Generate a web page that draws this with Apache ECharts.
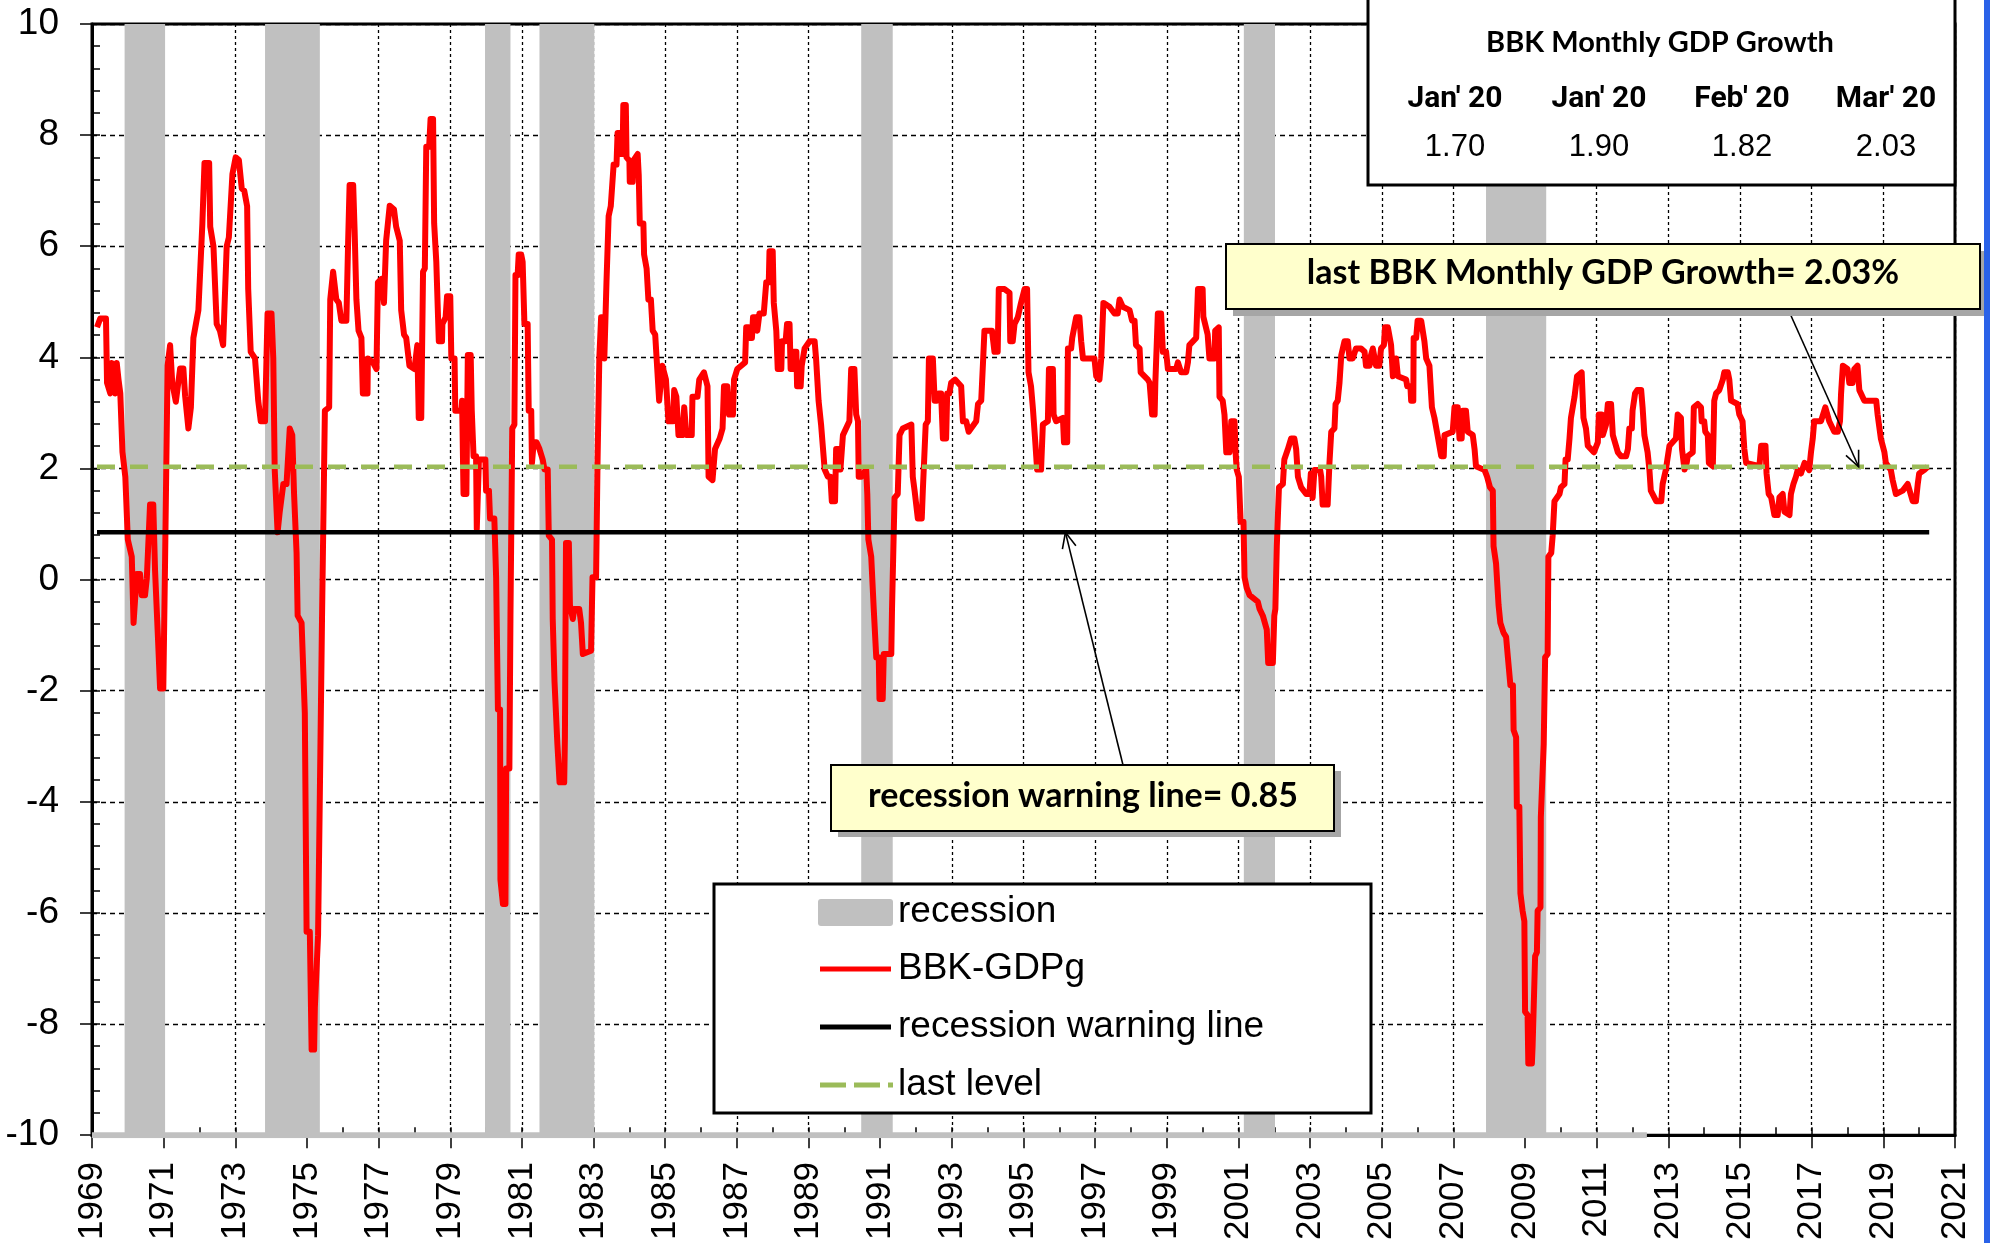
<!DOCTYPE html>
<html><head><meta charset="utf-8">
<script src="https://cdn.jsdelivr.net/npm/echarts@6/dist/echarts.min.js"></script>
<style>html,body{margin:0;padding:0;background:#fff}#c{width:1990px;height:1243px}</style>
</head><body><div id="c"></div>
<script>
// ---------------- DATA ----------------
const yearRange = [1969, 2021];
const valueRange = [-10, 10];
const recessions = [[1969.91,1971.04],[1973.83,1975.36],[1979.97,1980.68],[1981.49,1983.02],[1990.47,1991.35],[2001.15,2002.02],[2007.91,2009.59]];
const recessionSeriesEnd = 2012.4;
const warningLevel = 0.85;
const lastLevel = 2.03;
const levelSpan = [1969.14, 2020.28];
const tableTitle = 'BBK Monthly GDP Growth';
const tableHeaders = ["Jan' 20", "Jan' 20", "Feb' 20", "Mar' 20"];
const tableValues = ['1.70', '1.90', '1.82', '2.03'];
const lastLabel = 'last BBK Monthly GDP Growth= 2.03%';
const warningLabel = 'recession warning line= 0.85';
const legendNames = ['recession', 'BBK-GDPg', 'recession warning line', 'last level'];
const lastArrowTarget = [2018.31, 2.03];
const warningArrowTarget = [1996.17, 0.85];

const bbkGdpg1 = [[1969.14,4.54],[1969.23,4.7],[1969.39,4.7],[1969.42,3.54],[1969.51,3.35],[1969.55,3.9],[1969.65,3.35],[1969.69,3.9],[1969.74,3.6],[1969.79,3.35],[1969.85,2.3],[1969.93,1.85],[1970.00,0.72],[1970.11,0.41],[1970.16,-0.78],[1970.25,0.1],[1970.34,0.1],[1970.39,-0.28],[1970.48,-0.28],[1970.53,0.02],[1970.62,1.35],[1970.71,1.35],[1970.76,0.16],[1970.84,-1.03],[1970.90,-1.96],[1970.99,-1.96],[1971.04,0.35],[1971.11,3.85],[1971.18,4.22],[1971.24,3.54],[1971.34,3.2],[1971.46,3.8],[1971.55,3.8],[1971.60,3.3],[1971.69,2.72],[1971.76,3.1],[1971.83,4.35],[1971.97,4.85],[1972.08,6.4],[1972.14,7.5],[1972.27,7.5],[1972.30,6.35],[1972.39,6.0],[1972.48,4.6],[1972.57,4.48],[1972.66,4.22],[1972.76,6.0],[1972.82,6.16],[1972.92,7.3],[1973.01,7.6],[1973.10,7.55],[1973.18,7.04],[1973.25,7.0],[1973.33,6.72],[1973.36,5.23],[1973.43,4.1],[1973.55,3.98],[1973.64,3.22],[1973.71,2.85],[1973.83,2.85],[1973.87,3.98],[1973.90,4.79],[1974.01,4.79],[1974.06,3.98],[1974.10,1.98],[1974.18,0.85],[1974.24,1.22],[1974.34,1.72],[1974.43,1.72],[1974.52,2.72],[1974.59,2.6],[1974.64,1.54],[1974.71,0.48],[1974.74,-0.65],[1974.85,-0.78],[1974.94,-2.4],[1974.99,-6.34],[1975.08,-6.34],[1975.13,-8.46],[1975.20,-8.46],[1975.22,-7.71],[1975.31,-6.4],[1975.36,-3.84],[1975.42,-0.71],[1975.50,3.04],[1975.62,3.1],[1975.65,5.04],[1975.73,5.54],[1975.82,5.04],[1975.89,4.98],[1975.96,4.66],[1976.10,4.66],[1976.15,6.1],[1976.19,7.1],[1976.29,7.1],[1976.33,6.29],[1976.38,5.04],[1976.44,4.48],[1976.52,4.35],[1976.56,3.35],[1976.69,3.35],[1976.70,3.98],[1976.84,3.91],[1976.94,3.79],[1976.98,5.35],[1977.08,5.41],[1977.15,4.98],[1977.21,6.1],[1977.31,6.73],[1977.43,6.66],[1977.49,6.35],[1977.59,6.1],[1977.63,4.85],[1977.71,4.41],[1977.77,4.35],[1977.86,3.85],[1978.00,3.79],[1978.08,4.22],[1978.12,2.91],[1978.19,2.91],[1978.24,5.54]];
const bbkGdpg2 = [[1978.29,5.6],[1978.33,7.79],[1978.41,7.79],[1978.45,8.29],[1978.52,8.29],[1978.55,6.41],[1978.59,6.41],[1978.61,5.72],[1978.66,5.72],[1978.68,4.29],[1978.77,4.29],[1978.78,4.6],[1978.87,4.72],[1978.91,5.1],[1979.00,5.1],[1979.03,3.98],[1979.12,3.98],[1979.14,3.04],[1979.31,3.04],[1979.33,3.22],[1979.37,1.54],[1979.45,1.54],[1979.49,4.04],[1979.57,4.04],[1979.60,3.04],[1979.65,2.22],[1979.72,2.22],[1979.74,0.91],[1979.80,2.16],[1979.98,2.16],[1980.00,1.6],[1980.08,1.6],[1980.11,1.1],[1980.23,1.1],[1980.28,0.04],[1980.33,-2.34],[1980.39,-2.34],[1980.40,-5.4],[1980.47,-5.84],[1980.54,-5.84],[1980.56,-3.4],[1980.65,-3.4],[1980.68,-0.65],[1980.73,2.72],[1980.79,2.79],[1980.82,5.48],[1980.88,5.48],[1980.91,5.85],[1980.98,5.85],[1981.02,5.72],[1981.07,4.6],[1981.16,4.6],[1981.19,3.04],[1981.26,3.04],[1981.28,2.1],[1981.33,2.47],[1981.41,2.47],[1981.49,2.35],[1981.58,2.16],[1981.63,1.98],[1981.72,1.98],[1981.75,0.79],[1981.84,0.72],[1981.86,-0.71],[1981.91,-1.84],[1981.95,-1.84],[1981.99,-2.96],[1982.05,-3.65],[1982.18,-3.65],[1982.20,-2.84],[1982.23,0.66],[1982.31,0.66],[1982.34,-0.46],[1982.42,-0.71],[1982.46,-0.53],[1982.60,-0.53],[1982.65,-0.78],[1982.70,-1.34],[1982.93,-1.28],[1982.97,0.04],[1983.07,0.04],[1983.11,2.1],[1983.16,3.98],[1983.21,4.72],[1983.27,4.72],[1983.30,3.98],[1983.35,3.98],[1983.36,5.35],[1983.42,6.54],[1983.48,6.72],[1983.53,6.72],[1983.56,7.47],[1983.64,7.47],[1983.67,8.04],[1983.74,8.04],[1983.75,7.66],[1983.81,7.66],[1983.83,8.54],[1983.90,8.54],[1983.92,7.6],[1984.00,7.54],[1984.01,7.16],[1984.09,7.16],[1984.11,7.54],[1984.23,7.66],[1984.26,7.29],[1984.29,6.41],[1984.39,6.41],[1984.41,5.85],[1984.48,5.6],[1984.53,5.04],[1984.60,5.04],[1984.65,4.48],[1984.72,4.41],[1984.76,3.98],[1984.83,3.22],[1984.92,3.85],[1985.02,3.6],[1985.09,2.85],[1985.22,2.85],[1985.25,3.41],[1985.31,3.29],[1985.37,2.6],[1985.48,2.6],[1985.53,3.1],[1985.59,2.6],[1985.74,2.6],[1985.76,3.29],[1985.90,3.29],[1985.95,3.6],[1986.08,3.73],[1986.18,3.48],[1986.21,1.85],[1986.32,1.79],[1986.39,2.35],[1986.52,2.54],[1986.60,2.72],[1986.64,3.48],[1986.73,3.48],[1986.78,2.97],[1986.89,2.97],[1986.92,3.6],[1987.01,3.79]];
const bbkGdpg3 = [[1987.12,3.85],[1987.23,3.91],[1987.26,4.54],[1987.33,4.54],[1987.35,4.35],[1987.42,4.35],[1987.45,4.72],[1987.54,4.72],[1987.57,4.48],[1987.63,4.79],[1987.75,4.79],[1987.82,5.35],[1987.89,5.35],[1987.91,5.91],[1988.00,5.91],[1988.03,4.98],[1988.10,4.48],[1988.14,3.79],[1988.24,3.79],[1988.26,4.29],[1988.36,4.29],[1988.40,4.6],[1988.47,4.6],[1988.50,3.79],[1988.56,3.79],[1988.59,4.1],[1988.66,4.1],[1988.68,3.48],[1988.78,3.48],[1988.81,3.85],[1988.89,4.16],[1989.03,4.29],[1989.17,4.29],[1989.21,3.98],[1989.28,3.22],[1989.35,2.79],[1989.45,1.98],[1989.54,1.85],[1989.61,1.85],[1989.65,1.41],[1989.74,1.41],[1989.77,2.35],[1989.87,2.35],[1989.89,1.98],[1989.96,2.6],[1990.14,2.85],[1990.19,3.79],[1990.28,3.79],[1990.33,2.97],[1990.38,2.85],[1990.40,1.85],[1990.47,1.85],[1990.61,1.98],[1990.64,1.54],[1990.67,0.72],[1990.75,0.41],[1990.82,-0.53],[1990.89,-1.4],[1990.96,-1.4],[1990.98,-2.15],[1991.07,-2.15],[1991.10,-1.34],[1991.31,-1.34],[1991.33,-0.53],[1991.40,1.47],[1991.49,1.54],[1991.54,2.6],[1991.63,2.72],[1991.87,2.79],[1991.91,1.85],[1991.96,1.6],[1992.05,1.1],[1992.16,1.1],[1992.19,1.6],[1992.27,2.79],[1992.33,2.85],[1992.36,3.98],[1992.47,3.98],[1992.52,3.22],[1992.59,3.22],[1992.63,3.35],[1992.70,3.35],[1992.75,2.54],[1992.84,2.54],[1992.87,3.35],[1992.93,3.35],[1992.98,3.54],[1993.09,3.6],[1993.26,3.48],[1993.31,2.85],[1993.40,2.85],[1993.47,2.66],[1993.68,2.85],[1993.73,3.16],[1993.82,3.22],[1993.87,3.91],[1993.91,4.48],[1994.12,4.48],[1994.19,4.1],[1994.28,4.1],[1994.31,5.23],[1994.47,5.23],[1994.61,5.16],[1994.63,4.29],[1994.70,4.29],[1994.75,4.6],[1994.84,4.72],[1994.93,4.98],[1995.03,5.23],[1995.10,5.23],[1995.14,3.73],[1995.21,3.48],[1995.26,3.1],[1995.33,2.47],[1995.38,1.98],[1995.49,1.98],[1995.54,2.79],[1995.68,2.85],[1995.71,3.79],[1995.82,3.79]];
const bbkGdpg4 = [[1995.84,2.97],[1995.91,2.85],[1996.10,2.91],[1996.13,2.47],[1996.22,2.47],[1996.24,4.16],[1996.33,4.16],[1996.36,4.35],[1996.47,4.72],[1996.56,4.72],[1996.61,4.29],[1996.66,3.98],[1996.98,3.98],[1997.03,3.66],[1997.12,3.6],[1997.17,3.98],[1997.23,4.98],[1997.40,4.91],[1997.54,4.79],[1997.63,4.79],[1997.68,5.04],[1997.77,4.91],[1997.96,4.85],[1998.03,4.66],[1998.10,4.66],[1998.14,4.22],[1998.24,4.16],[1998.27,3.73],[1998.47,3.6],[1998.52,3.54],[1998.59,2.97],[1998.66,2.97],[1998.68,3.54],[1998.75,4.79],[1998.84,4.79],[1998.89,4.1],[1998.98,4.1],[1999.03,3.79],[1999.26,3.79],[1999.31,3.91],[1999.40,3.73],[1999.54,3.73],[1999.59,3.91],[1999.63,4.22],[1999.82,4.35],[1999.87,5.23],[2000.00,5.23],[2000.02,4.73],[2000.14,4.41],[2000.19,3.98],[2000.33,3.98],[2000.35,4.48],[2000.45,4.54],[2000.47,3.29],[2000.56,3.22],[2000.61,2.97],[2000.66,2.29],[2000.75,2.29],[2000.80,2.85],[2000.89,2.85],[2000.92,2.29],[2000.95,1.98],[2001.01,1.85],[2001.06,1.04],[2001.14,1.04],[2001.17,0.04],[2001.23,-0.15],[2001.31,-0.28],[2001.54,-0.4],[2001.59,-0.53],[2001.68,-0.65],[2001.79,-0.9],[2001.83,-1.5],[2001.96,-1.5],[2002.00,-0.65],[2002.03,-0.53],[2002.07,0.6],[2002.13,1.66],[2002.24,1.72],[2002.28,2.16],[2002.38,2.35],[2002.47,2.54],[2002.56,2.54],[2002.61,2.35],[2002.66,1.85],[2002.75,1.66],[2002.89,1.54],[2002.98,1.54],[2003.02,1.91],[2003.07,1.47],[2003.12,1.97],[2003.28,1.97],[2003.31,1.85],[2003.35,1.35],[2003.49,1.35],[2003.54,2.1],[2003.59,2.66],[2003.68,2.72],[2003.71,3.16],[2003.77,3.22],[2003.82,3.54],[2003.87,4.04],[2003.96,4.29],[2004.05,4.29],[2004.10,3.98],[2004.19,3.98],[2004.28,4.16],[2004.42,4.16],[2004.52,4.1]];
const bbkGdpg5 = [[2004.56,3.85],[2004.66,3.85],[2004.70,4.04],[2004.75,4.16],[2004.84,3.85],[2004.93,3.85],[2004.98,4.16],[2005.06,4.22],[2005.09,4.54],[2005.17,4.54],[2005.26,4.22],[2005.31,3.66],[2005.40,3.98],[2005.45,3.66],[2005.68,3.6],[2005.71,3.48],[2005.80,3.48],[2005.82,3.22],[2005.88,3.22],[2005.89,4.35],[2005.96,4.35],[2006.00,4.66],[2006.10,4.66],[2006.19,4.29],[2006.24,3.98],[2006.33,3.85],[2006.40,3.1],[2006.47,2.91],[2006.54,2.66],[2006.66,2.22],[2006.73,2.22],[2006.75,2.6],[2006.98,2.66],[2007.03,3.1],[2007.12,3.1],[2007.17,2.54],[2007.23,2.54],[2007.26,3.04],[2007.35,3.04],[2007.40,2.66],[2007.54,2.6],[2007.59,2.35],[2007.63,2.04],[2007.87,1.97],[2007.94,1.85],[2008.02,1.66],[2008.10,1.6],[2008.12,0.6],[2008.19,0.29],[2008.26,-0.46],[2008.31,-0.78],[2008.40,-0.96],[2008.47,-1.03],[2008.52,-1.4],[2008.59,-1.9],[2008.66,-1.9],[2008.68,-2.71],[2008.75,-2.84],[2008.77,-4.09],[2008.84,-4.09],[2008.87,-5.65],[2008.93,-5.96],[2008.98,-6.15],[2009.00,-7.78],[2009.07,-7.84],[2009.09,-8.71],[2009.19,-8.71],[2009.21,-8.4],[2009.26,-8.4],[2009.28,-6.78],[2009.33,-6.71],[2009.35,-5.96],[2009.43,-5.9],[2009.44,-4.28],[2009.52,-2.96],[2009.56,-1.4],[2009.63,-1.34],[2009.65,0.41],[2009.73,0.48],[2009.77,0.79],[2009.82,1.41],[2009.96,1.54],[2010.00,1.66],[2010.10,1.72],[2010.13,2.16],[2010.19,2.16],[2010.24,2.54],[2010.28,2.91],[2010.38,3.29],[2010.45,3.66],[2010.58,3.73],[2010.63,2.91],[2010.70,2.72],[2010.75,2.41],[2010.92,2.29],[2011.03,2.47],[2011.06,2.97],[2011.14,2.97],[2011.17,2.6],[2011.26,2.79],[2011.31,3.16],[2011.40,3.16],[2011.45,2.6],[2011.59,2.29],[2011.68,2.22],[2011.82,2.22],[2011.87,2.35],[2011.91,2.72],[2011.98,2.72],[2012.00,3.04],[2012.07,3.35],[2012.13,3.41],[2012.24,3.41],[2012.28,3.1],[2012.33,2.6],[2012.42,2.29],[2012.47,1.98],[2012.51,1.6],[2012.66,1.41],[2012.80,1.41],[2012.84,1.72],[2012.93,1.98],[2013.03,2.41],[2013.21,2.54],[2013.26,2.97],[2013.35,2.91],[2013.38,2.35],[2013.45,1.98]];
const bbkGdpg6 = [[2013.51,2.1],[2013.54,2.22],[2013.68,2.29],[2013.71,3.1],[2013.82,3.16],[2013.91,3.1],[2013.93,2.85],[2014.00,2.85],[2014.03,2.66],[2014.10,2.6],[2014.13,2.1],[2014.24,2.04],[2014.26,2.6],[2014.28,3.22],[2014.33,3.35],[2014.42,3.41],[2014.52,3.6],[2014.56,3.73],[2014.66,3.73],[2014.70,3.6],[2014.75,3.22],[2014.93,3.16],[2014.98,2.97],[2015.07,2.85],[2015.12,2.35],[2015.17,2.1],[2015.54,2.04],[2015.59,2.41],[2015.71,2.41],[2015.74,1.91],[2015.80,1.54],[2015.87,1.48],[2015.96,1.16],[2016.05,1.16],[2016.10,1.48],[2016.19,1.54],[2016.24,1.22],[2016.38,1.16],[2016.42,1.54],[2016.49,1.72],[2016.56,1.85],[2016.61,1.97],[2016.70,1.91],[2016.80,2.1],[2016.93,1.97],[2016.98,2.29],[2017.03,2.54],[2017.07,2.85],[2017.26,2.85],[2017.38,3.1],[2017.49,2.85],[2017.63,2.66],[2017.73,2.66],[2017.79,2.85],[2017.82,3.35],[2017.87,3.85],[2018.00,3.79],[2018.05,3.54],[2018.14,3.54],[2018.19,3.79],[2018.28,3.85],[2018.33,3.41],[2018.47,3.22],[2018.80,3.22],[2018.84,2.97],[2018.93,2.54],[2019.03,2.29],[2019.07,2.1],[2019.21,1.97],[2019.26,1.79],[2019.35,1.54],[2019.54,1.6],[2019.68,1.72],[2019.82,1.41],[2019.91,1.41],[2019.96,1.72],[2020.00,1.91],[2020.14,1.97],[2020.24,2.03]];
const bbkGdpg = [].concat(bbkGdpg1, bbkGdpg2, bbkGdpg3, bbkGdpg4, bbkGdpg5, bbkGdpg6);

// ---------------- CHART ----------------
const FONT = "'Liberation Sans', Arial, sans-serif";
const CAL = "Lato, 'Open Sans', sans-serif";
const NARROW = "'Liberation Sans Narrow', 'Arial Narrow', Roboto, sans-serif";
const chart = echarts.init(document.getElementById('c'), null, {renderer: 'canvas'});

const option = {
  animation: false,
  backgroundColor: '#fff',
  grid: {left: 92, right: 35, top: 24, bottom: 107, show: true, borderColor: '#000', borderWidth: 3, backgroundColor: 'transparent'},
  xAxis: [
    {type: 'value', min: yearRange[0], max: yearRange[1], interval: 2, position: 'bottom',
     axisLine: {show: true, onZero: false, lineStyle: {color: '#000', width: 3}},
     axisTick: {show: true, inside: false, length: 13, lineStyle: {color: '#000', width: 1.5}},
     axisLabel: {rotate: 90, margin: 27, fontSize: 35, fontFamily: FONT, color: '#000', formatter: v => String(v)},
     splitLine: {show: true, lineStyle: {color: '#000', width: 1.3, type: [3, 3]}}},
    {type: 'value', min: yearRange[0], max: yearRange[1], interval: 1, position: 'bottom',
     axisLine: {show: false, onZero: false}, axisTick: {show: true, inside: true, length: 8, lineStyle: {color: '#000', width: 1.5}},
     axisLabel: {show: false}, splitLine: {show: false}}
  ],
  yAxis: [
    {type: 'value', min: valueRange[0], max: valueRange[1], interval: 2, position: 'left',
     axisLine: {show: true, onZero: false, lineStyle: {color: '#000', width: 3}},
     axisTick: {show: true, inside: false, length: 12, lineStyle: {color: '#000', width: 1.5}},
     axisLabel: {margin: 33, fontSize: 37, fontFamily: FONT, color: '#000'},
     splitLine: {show: true, lineStyle: {color: '#000', width: 1.3, type: [5, 4]}}},
    {type: 'value', min: valueRange[0], max: valueRange[1], interval: 0.4, position: 'left',
     axisLine: {show: false, onZero: false}, axisTick: {show: true, inside: true, length: 8, lineStyle: {color: '#000', width: 1.5}},
     axisLabel: {show: false}, splitLine: {show: false}}
  ],
  series: [
    {name: legendNames[0], type: 'line', symbol: 'none', z: 3, silent: true,
     data: [[yearRange[0], valueRange[0]], [recessionSeriesEnd, valueRange[0]]],
     lineStyle: {color: '#c0c0c0', width: 6},
     markArea: {silent: true, itemStyle: {color: '#c0c0c0'},
       data: recessions.map(r => [{xAxis: r[0], yAxis: valueRange[0]}, {xAxis: r[1], yAxis: valueRange[1]}])}},
    {name: legendNames[1], type: 'line', symbol: 'none', z: 4, data: bbkGdpg,
     lineStyle: {color: '#ff0000', width: 6, join: 'round'}},
    {name: legendNames[2], type: 'line', symbol: 'none', z: 5,
     data: [[levelSpan[0], warningLevel], [levelSpan[1], warningLevel]],
     lineStyle: {color: '#000', width: 4.5}},
    {name: legendNames[3], type: 'line', symbol: 'none', z: 5,
     data: [[levelSpan[0], lastLevel], [levelSpan[1], lastLevel]],
     lineStyle: {color: '#9bbb59', width: 4.5, type: [18, 15]}}
  ]
};
chart.setOption(option);

// ---------------- ANNOTATIONS ----------------
function txt(text, x, y, font, align) {
  return {type: 'text', z: 102, x: x, y: y,
    style: {text: text, font: font, fill: '#000', align: align || 'center', textAlign: align || 'center', verticalAlign: 'middle', textVerticalAlign: 'middle'}};
}
function arrow(from, to) {
  const dx = to[0] - from[0], dy = to[1] - from[1];
  const a = Math.atan2(dy, dx), L = 17, s = 0.42;
  const p1 = [to[0] - L * Math.cos(a - s), to[1] - L * Math.sin(a - s)];
  const p2 = [to[0] - L * Math.cos(a + s), to[1] - L * Math.sin(a + s)];
  return [
    {type: 'line', z: 99, shape: {x1: from[0], y1: from[1], x2: to[0], y2: to[1]}, style: {stroke: '#000', lineWidth: 1.6}},
    {type: 'polyline', z: 99, shape: {points: [p1, to, p2]}, style: {stroke: '#000', lineWidth: 1.6, fill: null}}
  ];
}
const px = v => chart.convertToPixel({xAxisIndex: 0, yAxisIndex: 0}, v);
const g = [];
// table box
g.push({type: 'rect', z: 100, shape: {x: 1368, y: -5, width: 587, height: 190}, style: {fill: '#fff', stroke: '#000', lineWidth: 3}});
g.push(txt(tableTitle, 1660, 43, 'bold 29px ' + CAL));
const tableCols = [1455, 1599, 1742, 1886];
tableHeaders.forEach((h, i) => g.push(txt(h, tableCols[i], 99, 'bold 30px ' + NARROW)));
tableValues.forEach((v, i) => g.push(txt(v, tableCols[i], 147, '31px ' + FONT)));
// callout: last level
g.push({type: 'rect', z: 100, shape: {x: 1233, y: 251, width: 754, height: 65}, style: {fill: '#a6a6a6'}});
g.push({type: 'rect', z: 101, shape: {x: 1226, y: 244, width: 754, height: 65}, style: {fill: '#ffffcc', stroke: '#000', lineWidth: 2}});
g.push(txt(lastLabel, 1603, 273, 'bold 34px ' + CAL));
// callout: warning line
g.push({type: 'rect', z: 100, shape: {x: 838, y: 771, width: 503, height: 66}, style: {fill: '#a6a6a6'}});
g.push({type: 'rect', z: 101, shape: {x: 831, y: 765, width: 503, height: 66}, style: {fill: '#ffffcc', stroke: '#000', lineWidth: 2}});
g.push(txt(warningLabel, 1083, 796, 'bold 34px ' + CAL));
// arrows
arrow([1788, 309], px(lastArrowTarget)).forEach(e => g.push(e));
arrow([1123, 765], px(warningArrowTarget)).forEach(e => g.push(e));
// legend
g.push({type: 'rect', z: 100, shape: {x: 714, y: 884, width: 657, height: 229}, style: {fill: '#fff', stroke: '#000', lineWidth: 3}});
g.push({type: 'rect', z: 101, shape: {x: 818, y: 899, width: 75, height: 27, r: 3}, style: {fill: '#c0c0c0'}});
g.push({type: 'line', z: 101, shape: {x1: 820, y1: 969, x2: 891, y2: 969}, style: {stroke: '#ff0000', lineWidth: 5}});
g.push({type: 'line', z: 101, shape: {x1: 820, y1: 1027, x2: 891, y2: 1027}, style: {stroke: '#000', lineWidth: 5}});
g.push({type: 'line', z: 101, shape: {x1: 820, y1: 1085, x2: 893, y2: 1085}, style: {stroke: '#9bbb59', lineWidth: 5, lineDash: [26, 8]}});
[912, 969, 1027, 1085].forEach((y, i) => g.push(txt(legendNames[i], 898, y, '37px ' + FONT, 'left')));
// right edge strip
g.push({type: 'rect', z: 100, shape: {x: 1984, y: 0, width: 6, height: 1243}, style: {fill: '#2a62e8'}});
chart.setOption({graphic: {elements: g}});
</script>
</body></html>
